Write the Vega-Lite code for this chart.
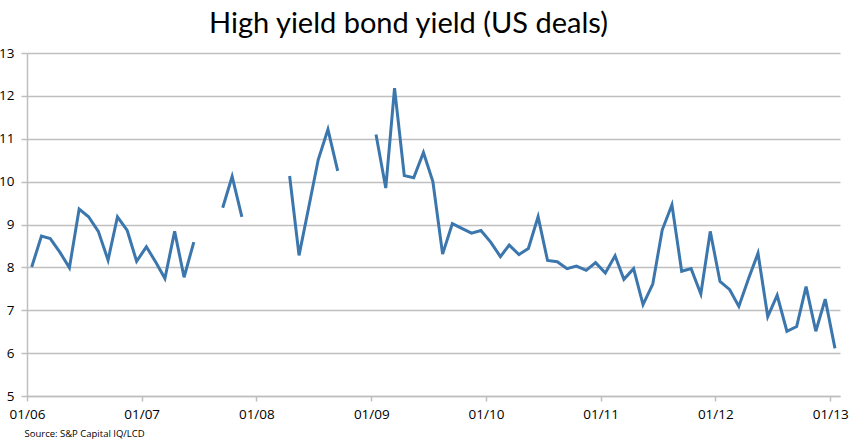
{
  "$schema": "https://vega.github.io/schema/vega-lite/v6.json",
  "width": 813,
  "height": 343,
  "autosize": "none",
  "padding": {"left": 27, "top": 53, "right": 24, "bottom": 44},
  "background": "white",
  "title": {
    "text": "High yield bond yield (US deals)",
    "font": "Lato",
    "fontSize": 29,
    "fontWeight": "normal",
    "color": "#000000",
    "anchor": "middle",
    "frame": "group",
    "baseline": "alphabetic",
    "offset": 16,
    "dx": -25,
    "dy": 32
  },
  "data": {
    "values": [
      {"date": "2006/01/16", "yield": 8.01},
      {"date": "2006/02/16", "yield": 8.73},
      {"date": "2006/03/16", "yield": 8.67},
      {"date": "2006/04/16", "yield": 8.35},
      {"date": "2006/05/16", "yield": 7.99},
      {"date": "2006/06/16", "yield": 9.36},
      {"date": "2006/07/16", "yield": 9.18},
      {"date": "2006/08/16", "yield": 8.84},
      {"date": "2006/09/16", "yield": 8.17},
      {"date": "2006/10/16", "yield": 9.18},
      {"date": "2006/11/16", "yield": 8.86},
      {"date": "2006/12/16", "yield": 8.14},
      {"date": "2007/01/16", "yield": 8.48},
      {"date": "2007/02/16", "yield": 8.11},
      {"date": "2007/03/16", "yield": 7.74},
      {"date": "2007/04/16", "yield": 8.84},
      {"date": "2007/05/16", "yield": 7.77},
      {"date": "2007/06/16", "yield": 8.59},
      {"date": "2007/07/16", "yield": null},
      {"date": "2007/08/16", "yield": null},
      {"date": "2007/09/16", "yield": 9.39},
      {"date": "2007/10/16", "yield": 10.12},
      {"date": "2007/11/16", "yield": 9.18},
      {"date": "2007/12/16", "yield": null},
      {"date": "2008/01/16", "yield": null},
      {"date": "2008/02/16", "yield": null},
      {"date": "2008/03/16", "yield": null},
      {"date": "2008/04/16", "yield": 10.13},
      {"date": "2008/05/16", "yield": 8.28},
      {"date": "2008/06/16", "yield": 9.41},
      {"date": "2008/07/16", "yield": 10.51},
      {"date": "2008/08/16", "yield": 11.22},
      {"date": "2008/09/16", "yield": 10.25},
      {"date": "2008/10/16", "yield": null},
      {"date": "2008/11/16", "yield": null},
      {"date": "2008/12/16", "yield": null},
      {"date": "2009/01/16", "yield": 11.10},
      {"date": "2009/02/16", "yield": 9.85},
      {"date": "2009/03/16", "yield": 12.18},
      {"date": "2009/04/16", "yield": 10.14},
      {"date": "2009/05/16", "yield": 10.09},
      {"date": "2009/06/16", "yield": 10.68},
      {"date": "2009/07/16", "yield": 10.0},
      {"date": "2009/08/16", "yield": 8.31},
      {"date": "2009/09/16", "yield": 9.02},
      {"date": "2009/10/16", "yield": 8.91},
      {"date": "2009/11/16", "yield": 8.80},
      {"date": "2009/12/16", "yield": 8.86},
      {"date": "2010/01/16", "yield": 8.59},
      {"date": "2010/02/16", "yield": 8.25},
      {"date": "2010/03/16", "yield": 8.52},
      {"date": "2010/04/16", "yield": 8.30},
      {"date": "2010/05/16", "yield": 8.44},
      {"date": "2010/06/16", "yield": 9.18},
      {"date": "2010/07/16", "yield": 8.16},
      {"date": "2010/08/16", "yield": 8.13},
      {"date": "2010/09/16", "yield": 7.97},
      {"date": "2010/10/16", "yield": 8.03},
      {"date": "2010/11/16", "yield": 7.93},
      {"date": "2010/12/16", "yield": 8.11},
      {"date": "2011/01/16", "yield": 7.87},
      {"date": "2011/02/16", "yield": 8.27},
      {"date": "2011/03/16", "yield": 7.72},
      {"date": "2011/04/16", "yield": 7.97},
      {"date": "2011/05/16", "yield": 7.13},
      {"date": "2011/06/16", "yield": 7.61},
      {"date": "2011/07/16", "yield": 8.87},
      {"date": "2011/08/16", "yield": 9.46},
      {"date": "2011/09/16", "yield": 7.91},
      {"date": "2011/10/16", "yield": 7.97},
      {"date": "2011/11/16", "yield": 7.38},
      {"date": "2011/12/16", "yield": 8.84},
      {"date": "2012/01/16", "yield": 7.67},
      {"date": "2012/02/16", "yield": 7.48},
      {"date": "2012/03/16", "yield": 7.09},
      {"date": "2012/04/16", "yield": 7.74},
      {"date": "2012/05/16", "yield": 8.33},
      {"date": "2012/06/16", "yield": 6.85},
      {"date": "2012/07/16", "yield": 7.35},
      {"date": "2012/08/16", "yield": 6.51},
      {"date": "2012/09/16", "yield": 6.62},
      {"date": "2012/10/16", "yield": 7.55},
      {"date": "2012/11/16", "yield": 6.51},
      {"date": "2012/12/16", "yield": 7.26},
      {"date": "2013/01/16", "yield": 6.11}
    ]
  },
  "mark": {
    "type": "line",
    "color": "#3b76ad",
    "strokeWidth": 3,
    "strokeJoin": "miter",
    "invalid": "break-paths-show-domains"
  },
  "encoding": {
    "x": {
      "field": "date",
      "type": "temporal",
      "scale": {
        "domain": [
          {"year": 2006, "month": 1, "date": 1},
          {"year": 2013, "month": 2, "date": 1}
        ],
        "nice": false
      },
      "axis": {
        "values": [
          {"year": 2006, "month": 1, "date": 1},
          {"year": 2007, "month": 1, "date": 1},
          {"year": 2008, "month": 1, "date": 1},
          {"year": 2009, "month": 1, "date": 1},
          {"year": 2010, "month": 1, "date": 1},
          {"year": 2011, "month": 1, "date": 1},
          {"year": 2012, "month": 1, "date": 1},
          {"year": 2013, "month": 1, "date": 1}
        ],
        "format": "%m/%y",
        "grid": false,
        "domainColor": "#bfbfbf",
        "domainWidth": 1.5,
        "tickColor": "#bfbfbf",
        "tickWidth": 1.5,
        "tickSize": 5,
        "labelFont": "Open Sans",
        "labelFontSize": 13.5,
        "labelColor": "#000000",
        "labelPadding": 6,
        "labelDx": 4.5,
        "labelFlush": false,
        "labelOverlap": false,
        "title": "Source: S&P Capital IQ/LCD",
        "titleFont": "Open Sans",
        "titleFontSize": 9.5,
        "titleFontWeight": "normal",
        "titleColor": "#000000",
        "titleAnchor": "start",
        "titleAlign": "left",
        "titleBaseline": "alphabetic",
        "titleX": -3,
        "titleY": 40
      }
    },
    "y": {
      "field": "yield",
      "type": "quantitative",
      "scale": {"domain": [5, 13], "nice": false, "zero": false},
      "axis": {
        "values": [5, 6, 7, 8, 9, 10, 11, 12, 13],
        "grid": true,
        "gridColor": "#bfbfbf",
        "gridWidth": 1.5,
        "domainColor": "#bfbfbf",
        "domainWidth": 1.5,
        "tickColor": "#bfbfbf",
        "tickWidth": 1.5,
        "tickSize": 6,
        "labelFont": "Open Sans",
        "labelFontSize": 13.5,
        "labelColor": "#000000",
        "labelPadding": 7,
        "title": null
      }
    }
  },
  "config": {
    "view": {"stroke": null}
  }
}
